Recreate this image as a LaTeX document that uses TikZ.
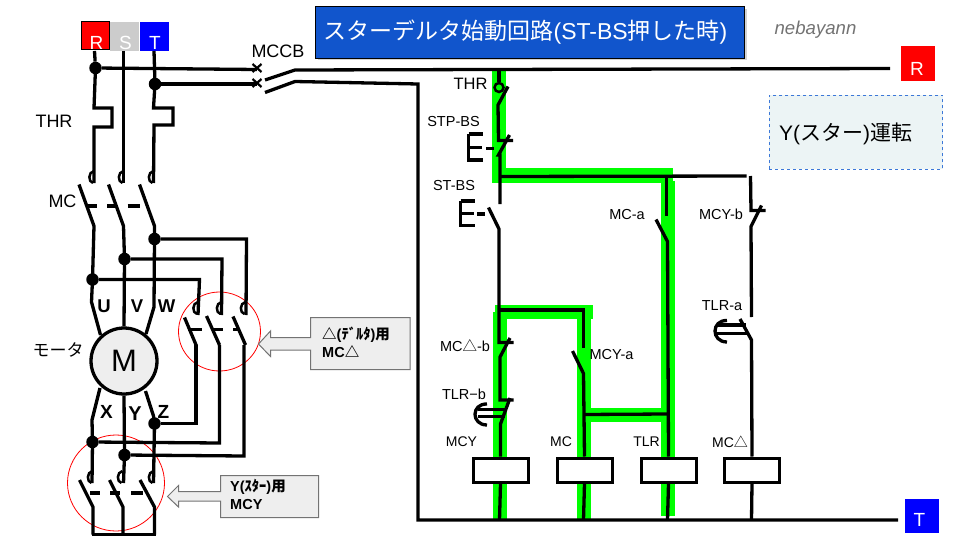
\documentclass[tikz,border=0pt]{standalone}
\usepackage{fontspec}
\setmainfont{Liberation Sans}
\newfontfamily\cjk{Noto Sans CJK JP}
\usetikzlibrary{shadows}
\newcommand\fs[1]{\fontsize{#1}{#1}\selectfont}
\definecolor{titleblue}{HTML}{1155CC}
\definecolor{gband}{HTML}{00FF00}
\definecolor{calloutfill}{HTML}{EEEEEE}
\definecolor{yfill}{HTML}{ECF4F5}
\definecolor{ydash}{HTML}{3C78D8}
\tikzset{
  wire/.style={line width=3.3pt,line join=miter},
  thinw/.style={line width=2.2pt},
  curlw/.style={line width=2.5pt},
  jdot/.style={circle,fill=black,inner sep=0,minimum size=12.5pt},
  lbl/.style={inner sep=0,font=\fs{14.5}},
  biglbl/.style={inner sep=0,font=\fs{18}},
  uvw/.style={inner sep=0,font=\fs{18.5}\bfseries},
  coil/.style={draw=black,line width=3pt,fill=white,inner sep=0,minimum width=55pt,minimum height=24pt},
  band/.style={fill=gband,draw=none},
  redring/.style={draw=red,line width=0.8pt},
  calloutshape/.style={draw=black!55,line width=1pt,fill=calloutfill},
  calltext/.style={inner sep=0,anchor=west,font=\fs{14.5}\bfseries}
}
\newcommand\curl[2]{\draw[curlw] (#1,#2-13) .. controls (#1-6,#2-12) and (#1-6,#2-2) .. (#1-1,#2-1);}
\begin{document}
\begin{tikzpicture}[x=1pt,y=-1pt]
\useasboundingbox (0,0) rectangle (960,540);
% ---------- green energised path
\fill[band] (491.5,71) rectangle (505.5,182.5);
\fill[band] (491.5,168.5) rectangle (672.5,182.5);
\fill[band] (661,181) rectangle (675,516);
\fill[band] (495,304.5) rectangle (592.5,318.5);
\fill[band] (492.5,312) rectangle (506.5,520);
\fill[band] (576.5,318) rectangle (590.5,520);
\fill[band] (590,408) rectangle (661,422);
% ---------- title etc
\node[draw=black,line width=1pt,fill=titleblue,drop shadow={shadow xshift=2pt,shadow yshift=-2pt,opacity=.35},
  minimum width=429pt,minimum height=51.5pt,inner sep=0] (title) at (530,32.5) {};
\node[inner sep=0,text=white,font=\fs{23}] (titletext) at (525.5,32.5)
  {{\cjk スターデルタ始動回路}(ST-BS{\cjk 押した時})};
\node[inner sep=0,text=black!55,font=\fs{18.6}\itshape] (author) at (815.5,29.5) {nebayann};
\node[draw=ydash,dashed,line width=.8pt,fill=yfill,minimum width=173.5pt,minimum height=74pt,inner sep=0] (ybox) at (856,132) {};
\node[inner sep=0,anchor=west,font=\fs{21}] (ytext) at (779,134) {Y({\cjk スター}){\cjk 運転}};
% ---------- terminals
\node[draw=black,line width=1pt,fill=red,minimum size=28pt,inner sep=0] (tR) at (95.5,36) {};
\node[fill=black!20,minimum size=29pt,inner sep=0] (tS) at (124.5,36.5) {};
\node[fill=blue,minimum size=29pt,inner sep=0] (tT) at (154,36.5) {};
\node[inner sep=0,text=white,font=\fs{19}] (tRt) at (96.5,43) {R};
\node[inner sep=0,text=white,font=\fs{19}] (tSt) at (125.5,43) {S};
\node[inner sep=0,text=white,font=\fs{19}] (tTt) at (155,43) {T};
\node[fill=red,minimum width=34pt,minimum height=34.5pt,inner sep=0] (rR) at (917.5,63.5) {};
\node[inner sep=0,text=white,font=\fs{19}] (rRt) at (917,68.5) {R};
\node[fill=blue,minimum width=34pt,minimum height=34.5pt,inner sep=0] (rT) at (921.5,516) {};
\node[inner sep=0,text=white,font=\fs{19}] (rTt) at (919.5,520) {T};
% rings
\draw[redring] (219.5,331.5) ellipse (41 and 39.5);
\draw[redring] (116,483) ellipse (48.5 and 48);
% ---------- junction dots
\node[jdot] (dR) at (95.5,68) {};
\node[jdot] (dT) at (155,84) {};
\node[jdot] (dW) at (154.5,239) {};
\node[jdot] (dV) at (124.5,259) {};
\node[jdot] (dU) at (92.5,279.5) {};
\node[jdot] (dZ) at (154.5,423.5) {};
\node[jdot] (dX) at (92.5,442) {};
\node[jdot] (dY) at (124.5,455) {};
% ---------- motor
\node[circle,draw=black,line width=3.3pt,fill=calloutfill,minimum size=66pt,inner sep=0,font=\fs{31}] (motor) at (124,361) {M};
% ---------- power feed
\draw[wire] (94.5,51) -- (dR);
\draw[wire] (dR.center) -- (94,108) -- (112,108) -- (112,127) -- (94,127) -- (94,183);
\draw[wire] (123.5,51) -- (123.5,183);
\draw[wire] (154,51) -- (dT.center) -- (153.5,108) -- (173,108) -- (173,125) -- (154,125) -- (153.5,183);
\curl{94}{184}\curl{123.5}{184}\curl{153.5}{184}
% MC contacts
\draw[wire] (79,184.5) -- (94,226) -- (dU.center);
\draw[wire] (108.5,184.5) -- (123.5,226) -- (dV.center);
\draw[wire] (139.5,184.5) -- (154.5,226) -- (dW.center);
\foreach \a/\b in {87/97,107/117,127.5/139.5}{\draw[wire] (\a,206) -- (\b,206);}
% MCCB
\draw[wire] (dR) -- (257,69.5);
\draw[wire] (dT) -- (257,84);
\foreach \yy in {68,83}{\draw[thinw] (252.5,\yy-4) -- (261.5,\yy+4) (252.5,\yy+4) -- (261.5,\yy-4);}
\draw[wire] (265,80) -- (295,70) -- (890,68.5);
\draw[wire] (265,92.5) -- (295,81.5) -- (418,84) -- (418,520) -- (898,520);
% to MC-delta
\draw[wire] (dW) -- (246.5,239) -- (246,315);
\draw[wire] (dV) -- (222,259) -- (221.5,315);
\draw[wire] (dU) -- (199.5,279.5) -- (198,315);
\curl{198}{315}\curl{221.5}{315}\curl{245.5}{315}
\draw[wire] (184.5,317.5) -- (196.5,346);
\draw[wire] (206.5,316) -- (219.5,345);
\draw[wire] (233,316.5) -- (245.5,345);
\foreach \a/\b in {188/202,213/223,233/240}{\draw[wire] (\a,329.5) -- (\b,329.5);}
\draw[wire] (196,345) -- (196,423.5) -- (dZ);
\draw[wire] (219.5,345) -- (219.5,443) -- (dX);
\draw[wire] (244,345) -- (244,456) -- (dY);
% motor leads
\draw[wire] (dU.center) -- (91.5,302) -- (100.5,335);
\draw[wire] (dV.center) -- (motor.north);
\draw[wire] (dW.center) -- (154,307) -- (146,334);
\draw[wire] (100,388) -- (92,420) -- (dX.center) -- (92,483);
\draw[wire] (motor.south) -- (dY.center) -- (123.5,483);
\draw[wire] (145.5,391) -- (153.5,416) -- (dZ.center) -- (153.5,483);
\curl{92.5}{484}\curl{122.5}{484}\curl{153.5}{484}
% MCY contacts
\draw[wire] (79.5,480) -- (93,507) -- (93,534.5);
\draw[wire] (109.5,480) -- (123,507) -- (123,534.5);
\draw[wire] (140,480) -- (154.5,507) -- (154.5,534.5);
\draw[wire] (91.5,534.5) -- (156,534.5);
\foreach \a/\b in {90/100,110/120,131/143}{\draw[wire] (\a,493) -- (\b,493);}
% callouts
\draw[calloutshape] (258.5,344) -- (270.5,331) -- (270.5,337.5) -- (310.5,337.5) -- (310.5,317.5) -- (410,317.5) -- (410,369.5) -- (310.5,369.5) -- (310.5,350) -- (270.5,350) -- (270.5,356.5) -- cycle;
\draw[calloutshape] (167.5,496.5) -- (178.5,485.5) -- (178.5,491.5) -- (220.5,491.5) -- (220.5,475.5) -- (318.5,475.5) -- (318.5,517.5) -- (220.5,517.5) -- (220.5,501) -- (178.5,501) -- (178.5,507) -- cycle;
\node[calltext] (c1a) at (322,335) {{\cjk △}({\cjk ﾃﾞﾙﾀ}){\cjk 用}};
\node[calltext] (c1b) at (322,352) {MC{\cjk △}};
\node[calltext] (c2a) at (230,487) {Y({\cjk ｽﾀｰ}){\cjk 用}};
\node[calltext] (c2b) at (230,505) {MCY};
% ---------- control circuit
\node[coil] (cMCY) at (500.5,470) {};
\node[coil] (cMC) at (584.5,470) {};
\node[coil] (cTLR) at (668.5,470) {};
\node[coil] (cMCD) at (752,470) {};
% THR NC
\draw[wire] (499,71) -- (499,82);
\draw[line width=2.5pt] (499,87.5) circle (4.5);
\draw[wire] (508,86.5) -- (498,105) -- (498.5,140.5) -- (513,140.5);
\draw[wire] (509.5,135) -- (498.5,155) -- (500,155) -- (500,204);
\draw[wire] (500,176.5) -- (746.5,176);
\draw[wire] (750.5,176) -- (751,210.5) -- (765.5,210.5);
\draw[wire] (761.5,205.5) -- (751,226.5) -- (751.5,317);
\draw[wire] (740,319) -- (751.5,340) -- (cMCD.north);
\draw[wire] (cMCD.south) -- (751.5,520);
\draw[wire] (717,325) -- (746,325) (717,333.5) -- (747,333.5);
\draw[wire] (727,320.5) .. controls (711,320) and (711,342) .. (727,342);
% ST-BS
\draw[wire] (468.5,134) -- (483,134) (468.5,134) -- (468.5,160) -- (483,160) (468.5,147.5) -- (482,147.5);
\draw[wire] (486,148.5) -- (493.5,148.5);
\draw[wire] (460.5,201) -- (475,201) (460.5,201) -- (460.5,225.5) -- (475,225.5) (460.5,213.5) -- (474,213.5);
\draw[wire] (477,214) -- (485,214);
\draw[wire] (488.5,207.5) -- (499,229) -- (499,342.5) -- (513.5,342.5);
\draw[wire] (510,338) -- (500,357) -- (500,400) -- (513.5,400);
\draw[wire] (510,398) -- (500.5,424) -- (cMCY.north);
\draw[wire] (478,409.5) -- (507,409.5) (478,416.5) -- (505,416.5);
\draw[wire] (487,404) .. controls (471,403.5) and (471,425) .. (487,425);
\draw[wire] (cMCY.south) -- (499.5,520);
% MC branch
\draw[wire] (497.5,310) -- (583.5,310) -- (583.5,348);
\draw[wire] (572.5,351) -- (583.5,373.5) -- (cMC.north);
\draw[wire] (cMC.south) -- (583.5,520);
\draw[wire] (583.5,414.5) -- (667.5,414);
% MC-a / TLR
\draw[wire] (666.5,176) -- (666.5,216);
\draw[wire] (656,219.5) -- (667.5,241.5) -- (cTLR.north);
\draw[wire] (cTLR.south) -- (667.5,520);
% ---------- labels
\node[biglbl] (lThr) at (54,121) {THR};
\node[biglbl] (lMc) at (62.5,201) {MC};
\node[biglbl] (lMccb) at (278,51.5) {MCCB};
\node[uvw] at (104,306) (lU) {U};
\node[uvw] at (137,306) (lV) {V};
\node[uvw] at (166.5,306) (lW) {W};
\node[uvw,font=\fs{19}\bfseries] at (106.5,412) (lX) {X};
\node[uvw,font=\fs{20}\bfseries] at (135,414) (lY) {Y};
\node[uvw,font=\fs{19}\bfseries] at (163.5,412) (lZ) {Z};
\node[inner sep=0,font=\fs{17}\cjk] (lMotor) at (58,350) {モータ};
\node[inner sep=0,font=\fs{16.5}] (rThr) at (470.5,84) {THR};
\node[lbl] (rStp) at (453.5,122) {STP-BS};
\node[lbl] (rSt) at (454,186) {ST-BS};
\node[lbl] (rMca) at (627,214.5) {MC-a};
\node[lbl] (rMcyb) at (721,214) {MCY-b};
\node[lbl] (rTlra) at (722,305.5) {TLR-a};
\node[lbl] (rMcdb) at (465,346) {MC{\cjk △}-b};
\node[lbl] (rMcya) at (611.5,354.5) {MCY-a};
\node[lbl] (rTlrb) at (464,394) {TLR{−}b};
\node[lbl,font=\fs{14}] (rMcy) at (461.5,441.5) {MCY};
\node[lbl,font=\fs{14}] (rMc) at (561,441.5) {MC};
\node[lbl,font=\fs{14}] (rTlr) at (646.5,441.5) {TLR};
\node[lbl,font=\fs{14}] (rMcd) at (730,441.5) {MC{\cjk △}};
\end{tikzpicture}
\end{document}
